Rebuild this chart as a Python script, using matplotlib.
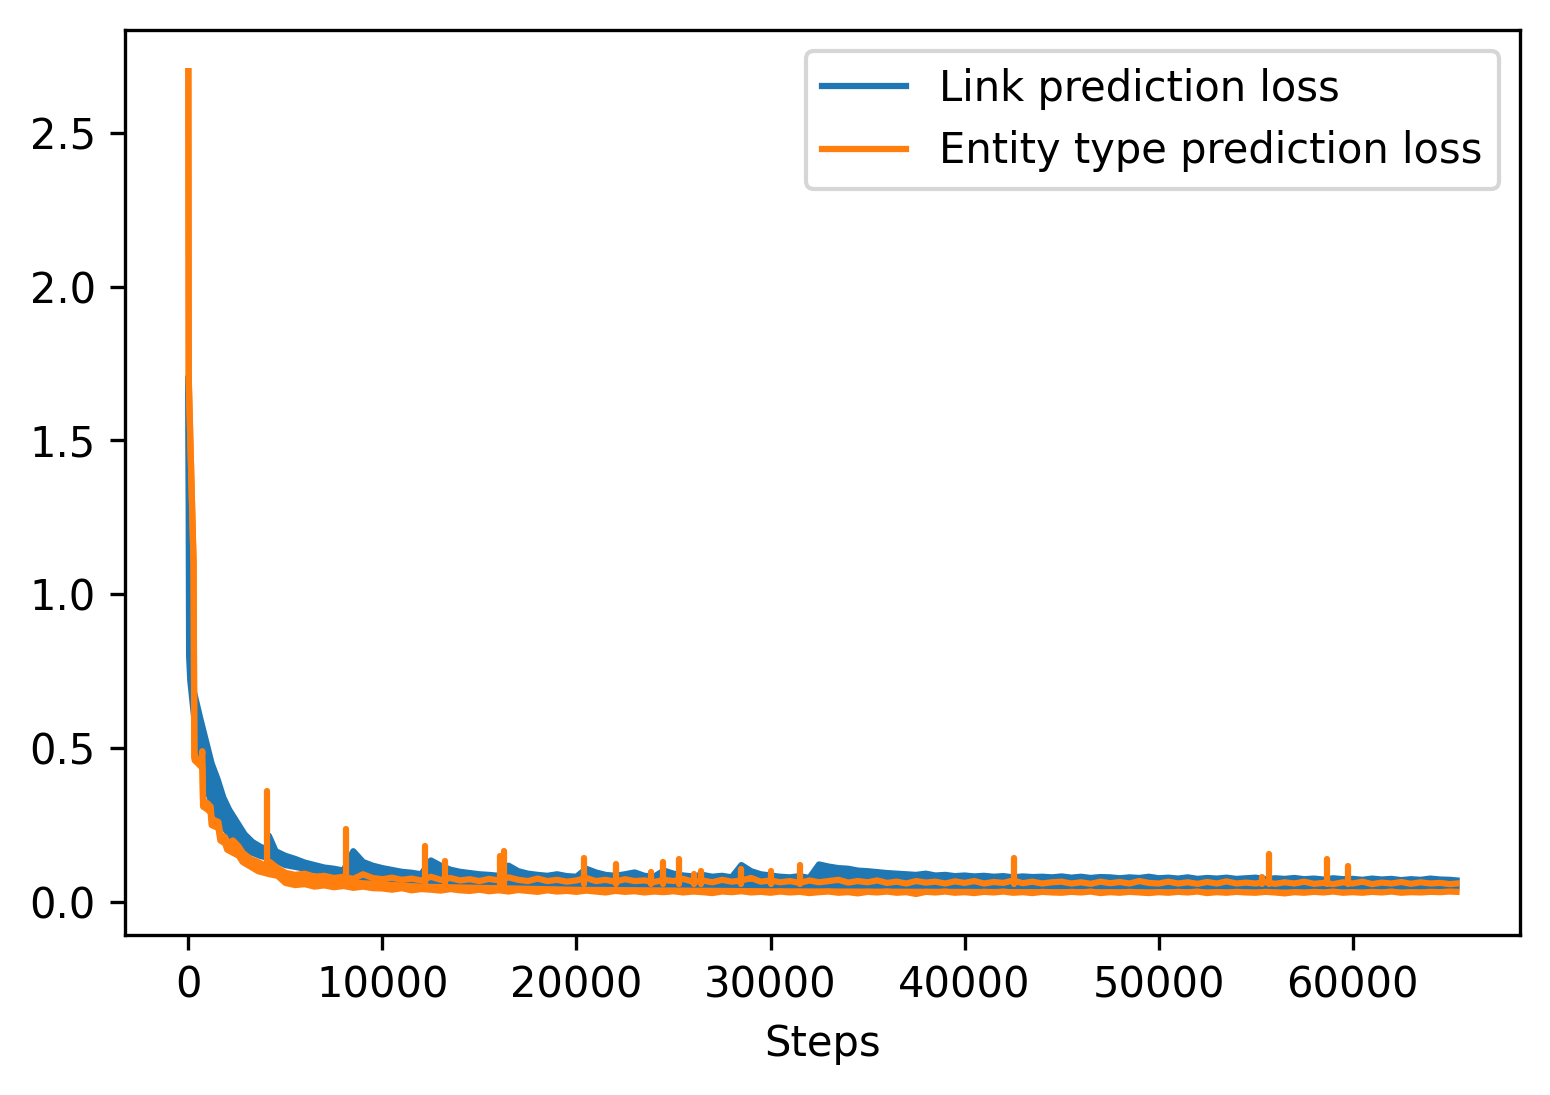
import matplotlib
matplotlib.use("Agg")
import matplotlib.pyplot as plt

# ---------------------------------------------------------------------------
# Link prediction loss (blue)
# ---------------------------------------------------------------------------
# first steps, read point by point
link_early_steps = [0, 40, 100, 200, 300, 450, 600, 800, 1000, 1200,
                    1500, 1800, 2100, 2500, 2900, 3300, 3700, 4000, 4150, 4500]
link_early_hi = [1.70, 1.30, 0.80, 0.72, 0.68, 0.64, 0.60, 0.55, 0.50, 0.45,
                 0.40, 0.34, 0.30, 0.26, 0.22, 0.195, 0.18, 0.17, 0.215, 0.165]
link_early_lo = [1.70, 0.80, 0.72, 0.66, 0.60, 0.55, 0.49, 0.42, 0.36, 0.32,
                 0.28, 0.245, 0.22, 0.19, 0.17, 0.16, 0.15, 0.145, 0.14, 0.135]

# every 500 steps from 5000 to 65000, plus the last logged step
grid_steps = list(range(5000, 65001, 500)) + [65350]
link_hi = [
    0.150, 0.140, 0.128, 0.120, 0.112, 0.108, 0.102, 0.165, 0.130, 0.118,  # 5000
    0.110, 0.104, 0.098, 0.095, 0.090, 0.135, 0.118, 0.105, 0.098, 0.094,  # 10000
    0.090, 0.088, 0.085, 0.118, 0.100, 0.092, 0.088, 0.085, 0.090, 0.084,  # 15000
    0.082, 0.108, 0.096, 0.088, 0.085, 0.090, 0.096, 0.085, 0.082, 0.102,  # 20000
    0.092, 0.086, 0.083, 0.088, 0.082, 0.085, 0.080, 0.120, 0.100, 0.090,  # 25000
    0.086, 0.082, 0.080, 0.084, 0.078, 0.122, 0.115, 0.110, 0.108, 0.102,  # 30000
    0.100, 0.097, 0.094, 0.092, 0.090, 0.088, 0.092, 0.086, 0.088, 0.084,  # 35000
    0.086, 0.083, 0.085, 0.082, 0.084, 0.080, 0.083, 0.081, 0.082, 0.080,  # 40000
    0.083, 0.079, 0.082, 0.078, 0.081, 0.080, 0.077, 0.080, 0.078, 0.082,  # 45000
    0.077, 0.079, 0.076, 0.080, 0.075, 0.078, 0.076, 0.079, 0.075, 0.077,  # 50000
    0.079, 0.074, 0.077, 0.075, 0.078, 0.074, 0.076, 0.073, 0.077, 0.074,  # 55000
    0.075, 0.072, 0.076, 0.073, 0.075, 0.071, 0.074, 0.072, 0.076, 0.073,  # 60000
    0.072, 0.070,
]
# lower edge after 5000 (mostly hidden under the orange band)
link_lo_steps = [5000, 8000, 12000, 20000, 30000, 45000, 65350]
link_lo = [0.120, 0.085, 0.070, 0.060, 0.055, 0.052, 0.050]

# ---------------------------------------------------------------------------
# Entity type prediction loss (orange)
# ---------------------------------------------------------------------------
type_early_steps = [0, 20, 270, 310, 330, 500, 650, 720, 760, 1000, 1150, 1200,
                    1550, 1650, 1900, 2000, 2300, 2600, 2800, 3200, 3600, 3900,
                    4200, 4600]
type_early_hi = [2.70, 1.70, 1.10, 0.47, 0.47, 0.46, 0.45, 0.49, 0.33, 0.32, 0.31,
                 0.27, 0.26, 0.22, 0.21, 0.19, 0.20, 0.18, 0.16, 0.14, 0.13, 0.12,
                 0.13, 0.11]
type_early_lo = [2.70, 1.70, 1.10, 0.47, 0.46, 0.45, 0.44, 0.44, 0.31, 0.30, 0.29,
                 0.25, 0.24, 0.20, 0.19, 0.17, 0.16, 0.15, 0.13, 0.115, 0.10, 0.095,
                 0.09, 0.085]

type_hi = [
    0.095, 0.088, 0.092, 0.082, 0.085, 0.078, 0.082, 0.075, 0.090, 0.078,  # 5000
    0.074, 0.079, 0.072, 0.076, 0.070, 0.082, 0.072, 0.078, 0.070, 0.074,  # 10000
    0.068, 0.075, 0.070, 0.080, 0.072, 0.068, 0.076, 0.068, 0.072, 0.066,  # 15000
    0.070, 0.078, 0.068, 0.072, 0.066, 0.074, 0.068, 0.070, 0.065, 0.072,  # 20000
    0.068, 0.075, 0.066, 0.070, 0.064, 0.072, 0.066, 0.070, 0.078, 0.066,  # 25000
    0.070, 0.064, 0.068, 0.062, 0.070, 0.064, 0.068, 0.072, 0.063, 0.068,  # 30000
    0.064, 0.070, 0.062, 0.066, 0.060, 0.068, 0.063, 0.066, 0.060, 0.067,  # 35000
    0.062, 0.068, 0.060, 0.065, 0.062, 0.070, 0.061, 0.066, 0.060, 0.064,  # 40000
    0.066, 0.060, 0.064, 0.059, 0.066, 0.061, 0.065, 0.060, 0.068, 0.062,  # 45000
    0.060, 0.066, 0.060, 0.064, 0.059, 0.065, 0.060, 0.067, 0.060, 0.063,  # 50000
    0.060, 0.065, 0.059, 0.064, 0.060, 0.066, 0.059, 0.062, 0.058, 0.064,  # 55000
    0.060, 0.066, 0.058, 0.063, 0.060, 0.065, 0.059, 0.064, 0.060, 0.062,  # 60000
    0.058, 0.060,
]
type_lo = [
    0.062, 0.055, 0.058, 0.050, 0.054, 0.048, 0.052, 0.046, 0.050, 0.045,  # 5000
    0.044, 0.040, 0.045, 0.038, 0.042, 0.040, 0.037, 0.042, 0.038, 0.036,  # 10000
    0.040, 0.035, 0.038, 0.034, 0.039, 0.036, 0.033, 0.038, 0.034, 0.036,  # 15000
    0.033, 0.037, 0.034, 0.031, 0.036, 0.033, 0.035, 0.031, 0.034, 0.032,  # 20000
    0.035, 0.031, 0.034, 0.032, 0.029, 0.034, 0.032, 0.035, 0.031, 0.033,  # 25000
    0.030, 0.034, 0.031, 0.033, 0.029, 0.032, 0.034, 0.030, 0.032, 0.028,  # 30000
    0.033, 0.031, 0.034, 0.030, 0.032, 0.026, 0.033, 0.031, 0.034, 0.030,  # 35000
    0.032, 0.029, 0.033, 0.031, 0.034, 0.030, 0.032, 0.029, 0.033, 0.031,  # 40000
    0.030, 0.033, 0.031, 0.034, 0.029, 0.032, 0.030, 0.033, 0.031, 0.029,  # 45000
    0.032, 0.030, 0.033, 0.031, 0.034, 0.029, 0.032, 0.030, 0.033, 0.031,  # 50000
    0.030, 0.033, 0.031, 0.028, 0.032, 0.030, 0.033, 0.031, 0.034, 0.030,  # 55000
    0.032, 0.030, 0.033, 0.031, 0.034, 0.030, 0.032, 0.031, 0.033, 0.032,  # 60000
    0.034, 0.033,
]

# isolated spikes of the entity type loss
spike_steps = [4060, 8150, 12200, 13220, 16050, 16250, 20400, 22050, 23850, 24450,
               25300, 26050, 26400, 28500, 30000, 31500, 42550, 55350, 55700,
               58650, 59750]
spike_tops = [0.360, 0.238, 0.183, 0.134, 0.150, 0.166, 0.143, 0.124, 0.098, 0.130,
              0.140, 0.090, 0.100, 0.107, 0.100, 0.120, 0.143, 0.080, 0.156,
              0.140, 0.117]
spike_bases = [0.10, 0.07, 0.06, 0.06, 0.06, 0.06, 0.06, 0.06, 0.06, 0.06,
               0.06, 0.06, 0.06, 0.06, 0.06, 0.06, 0.06, 0.06, 0.06,
               0.06, 0.06]

BLUE = "#1f77b4"
ORANGE = "#ff7f0e"
LW = 1.5

fig, ax = plt.subplots(figsize=(1550 / 300, 1095 / 300), dpi=300)
fig.subplots_adjust(left=0.0806, right=0.9806, bottom=0.146, top=0.9726)

# blue band
bx_hi = link_early_steps + grid_steps
by_hi = link_early_hi + link_hi
bx_lo = link_early_steps + link_lo_steps
by_lo = link_early_lo + link_lo
ax.fill(bx_hi + bx_lo[::-1], by_hi + by_lo[::-1], color=BLUE, linewidth=0)
ax.plot(bx_hi, by_hi, color=BLUE, linewidth=LW, label="Link prediction loss")
ax.plot(bx_lo, by_lo, color=BLUE, linewidth=LW)

# orange band
ox = type_early_steps + grid_steps
oy_hi = type_early_hi + type_hi
oy_lo = type_early_lo + type_lo
ax.fill_between(ox, oy_lo, oy_hi, color=ORANGE, linewidth=0)
ax.plot(ox, oy_hi, color=ORANGE, linewidth=LW, label="Entity type prediction loss")
ax.plot(ox, oy_lo, color=ORANGE, linewidth=LW)
ax.vlines(spike_steps, spike_bases, spike_tops, color=ORANGE, linewidth=LW,
          capstyle="round")

ax.set_xlabel("Steps")
ax.legend(loc="upper right")

fig.savefig("out.png", dpi=300)
